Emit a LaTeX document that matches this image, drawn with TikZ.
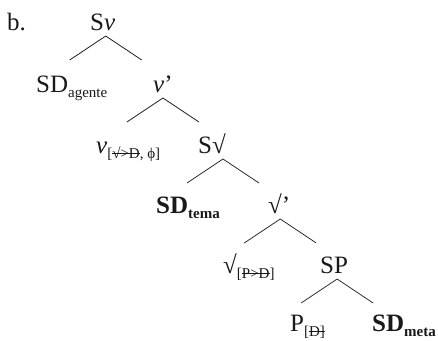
\documentclass[tikz,border=0pt]{standalone}
\usepackage{fontspec}
\setmainfont{Liberation Serif}
\usetikzlibrary{calc}

\newcommand{\lsub}[1]{\raisebox{-0.2em}{\fontsize{15}{15}\selectfont #1}}
\newsavebox{\strkbox}
\newcommand{\strk}[1]{\sbox{\strkbox}{#1}\rlap{\rule[0.3em]{\wd\strkbox}{0.06em}}\usebox{\strkbox}}

\begin{document}
\begin{tikzpicture}[
    x=1pt, y=-1pt,
    font=\fontsize{25}{30}\selectfont,
    lbl/.style={anchor=base west, inner sep=0pt, text=black!90},
    branch/.style={draw=black!85, line width=0.8pt}
]
    \useasboundingbox (0,0) rectangle (438,340);

    \node[lbl] (item) at (7,30) {b.};
    \node[lbl] (sv) at (90,30) {S\textit{v}};

    \node[lbl] (agente) at (36,92) {SD\lsub{agente}};
    \node[lbl] (vbar) at (153,92) {\textit{v}’};

    \node[lbl] (vhead) at (96,153) {\textit{v}\lsub{[\strk{√>D}, ϕ]}};
    \node[lbl] (sraiz) at (198,153) {S√};

    \node[lbl] (tema) at (156,213) {\bfseries SD\lsub{tema}};
    \node[lbl] (raizbar) at (268,213) {√’};

    \node[lbl] (raiz) at (223,273) {√\lsub{[\strk{P>D}]}};
    \node[lbl] (sp) at (320,273) {SP};

    \node[lbl] (phead) at (290,331) {P\lsub{[\strk{D]}}};
    \node[lbl] (meta) at (372,331) {\bfseries SD\lsub{meta}};

    % branches
    \foreach \n/\dx in {sv/3, vbar/0, sraiz/11, raizbar/1, sp/3} {
        \coordinate (\n-top) at ([shift={(\dx,6)}]\n.base);
        \draw[branch] (\n-top) -- ++(-36,24) coordinate (\n-l);
        \draw[branch] (\n-top) -- ++(36,24) coordinate (\n-r);
    }

\end{tikzpicture}
\end{document}
